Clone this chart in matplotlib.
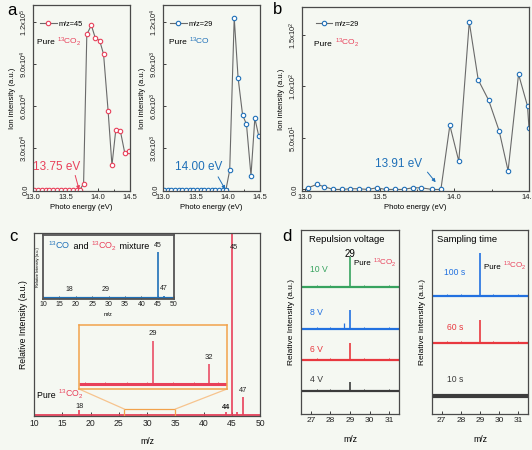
import matplotlib.pyplot as plt
from matplotlib.patches import Rectangle, ConnectionPatch
from matplotlib.ticker import MultipleLocator
from matplotlib.transforms import offset_copy

plt.rcParams['font.family'] = ['Liberation Sans', 'DejaVu Sans']
plt.rcParams['mathtext.fontset'] = 'custom'
plt.rcParams['mathtext.rm'] = 'Liberation Sans'
plt.rcParams['mathtext.default'] = 'regular'

# ---------------- data ----------------
# a (left): m/z = 45, pure 13CO2
e_a45 = [13.01, 13.07, 13.13, 13.19, 13.25, 13.31, 13.37, 13.43, 13.49, 13.55, 13.61, 13.67, 13.72,
         13.78, 13.83, 13.90, 13.96, 14.03, 14.09, 14.16, 14.22, 14.28, 14.35, 14.42, 14.48]
i_a45 = [0, 0, 0, 0, 0, 0, 0, 0, 0, 0, 0, 0, 0,
         4.7e3, 1.11e5, 1.176e5, 1.087e5, 1.065e5, 9.69e4, 5.67e4, 1.77e4, 4.32e4, 4.23e4, 2.62e4, 2.79e4]
# a (right): m/z = 29, pure 13CO
e_a29 = [13.01, 13.07, 13.12, 13.18, 13.24, 13.29, 13.35, 13.41, 13.46, 13.52, 13.58, 13.63, 13.69,
         13.75, 13.80, 13.86, 13.92, 13.97, 14.03, 14.10, 14.16, 14.23, 14.29, 14.36, 14.42, 14.48]
i_a29 = [0, 0, 0, 0, 0, 0, 0, 0, 0, 0, 0, 0, 0, 0, 0, 0, 0, 0,
         1.42e3, 1.23e4, 8.0e3, 5.36e3, 4.7e3, 1.04e3, 5.13e3, 3.87e3]
# b: m/z = 29, pure 13CO2
e_b29 = [13.02, 13.08, 13.13, 13.19, 13.25, 13.30, 13.36, 13.42, 13.48, 13.54, 13.60, 13.66, 13.72,
         13.78, 13.85, 13.91, 13.97, 14.03, 14.10, 14.16, 14.23, 14.30, 14.36, 14.43, 14.49, 14.50]
i_b29 = [1.6, 4.9, 2.6, 0, 0, 0.7, 0.7, 0, 1.6, 0, 0, 0, 1.6,
         1.6, 0, 0, 62.2, 27.3, 162.5, 106.3, 86.5, 56.9, 18.1, 111.8, 80.9, 59.2]

# c: mass spectrum of pure 13CO2 (relative, 45 goes off scale)
c_mz = [18, 29, 32, 44, 45, 46, 47]
c_int = [0.026, 0.0047, 0.0022, 0.016, 1.5, 0.018, 0.097]
c_labels = {18: '18', 44: '44', 45: '45', 47: '47'}
# c inset: 13CO + 13CO2 mixture
mix_mz = [29, 45, 46, 47]
mix_int = [0.025, 0.73, 0.01, 0.04]
mix_labels = ['18', '29', '45', '47']
mix_label_mz = [18, 29, 45, 47]
# small noise on the zoomed baseline
zoom_noise_mz = [25.3, 25.9, 26.4, 27.1, 27.6, 28.2, 28.7, 29.6, 30.1, 30.6, 31.2, 31.7, 32.5]
zoom_noise_int = [0.0003, 0.0002, 0.0003, 0.0002, 0.0003, 0.0002, 0.0003, 0.0002, 0.0003, 0.0002,
                  0.0003, 0.0002, 0.0003]

# d: repulsion voltage, m/z 29 peak
rv_names = ['4 V', '6 V', '8 V', '10 V']
rv_peak29 = [4.9, 9.2, 10.3, 16.3]
rv_side_mz = [None, None, 28.67, None]
rv_side_int = [0, 0, 3.3, 0]
# d: sampling time, m/z 29 peak
st_names = ['10 s', '60 s', '100 s']
st_peak29 = [0.0, 12.5, 23.4]
noise_mz = [26.7, 27.0, 27.3, 27.7, 28.0, 28.3, 28.6, 29.3, 29.7, 30.0, 30.4, 30.8, 31.0, 31.3]
noise_int = [0.8, 0.5, 1.0, 0.6, 0.9, 0.5, 0.8, 0.6, 1.0, 0.5, 0.8, 0.6, 1.1, 0.6]

# ---------------- styling ----------------
BG = '#f5f8f2'
RED = '#e8405a'
BLUE = '#1f70b8'
SPINE = '#4a4a4a'
LINE = '#6a6a6a'
ORANGE = '#f2a24c'
W, H = 532, 450

fig = plt.figure(figsize=(W / 100, H / 100), dpi=100, facecolor=BG)
renderer = fig.canvas.get_renderer()


def px_axes(l, t, r, b):
    ax = fig.add_axes([l / W, 1 - b / H, (r - l) / W, (b - t) / H])
    ax.set_facecolor(BG)
    for s in ax.spines.values():
        s.set_color(SPINE)
        s.set_linewidth(0.9)
    ax.tick_params(direction='in', length=2.5, width=0.6, labelsize=5.5, pad=2, colors='#222')
    ax.tick_params(which='minor', direction='in', length=1.5, width=0.5)
    return ax


def rainbow(ax, x, y, parts, size, transform=None):
    # pieces of differently coloured text sharing one baseline
    tr = transform or ax.transAxes
    dx = 0
    for s, c in parts:
        t = ax.text(x, y, s, color=c, fontsize=size, va='baseline',
                    transform=offset_copy(tr, fig=fig, x=dx, y=0, units='dots'))
        dx += t.get_window_extent(renderer).width


CO2 = r'$^{13}$CO$_2$'
CO = r'$^{13}$CO'


def scan_panel(ax, e, y, color, label, yt, ytl, ylim, xlim):
    ax.plot(e, y, '-', color=LINE, lw=0.8, marker='o', ms=3.2, mfc='white', mec=color,
            mew=0.8, label=label, clip_on=True)
    ax.set_xlim(*xlim)
    ax.set_ylim(*ylim)
    ax.xaxis.set_minor_locator(MultipleLocator(0.25))
    ax.set_xticks([13.0, 13.5, 14.0, 14.5])
    ax.set_xticklabels(['13.0', '13.5', '14.0', '14.5'])
    ax.set_yticks(yt)
    ax.set_yticklabels(ytl, rotation=90, va='center')
    ax.set_xlabel('Photo energy (eV)', fontsize=5.5, labelpad=2)
    ax.set_ylabel('Ion intensity (a.u.)', fontsize=5.5, labelpad=2)
    ax.legend(loc='upper left', frameon=False, fontsize=5.3, handlelength=2.2,
              handletextpad=0.3, borderaxespad=0.6, bbox_to_anchor=(0.0, 0.955))


def arrow(ax, head, tail, color):
    ax.annotate('', xy=head, xytext=tail,
                arrowprops=dict(arrowstyle='-|>', color=color, lw=0.7, mutation_scale=5,
                                shrinkA=0, shrinkB=0))


# ---------------- panel a ----------------
a1 = px_axes(33, 5, 130, 191)
scan_panel(a1, e_a45, i_a45, RED, 'm/z=45', [0, 3e4, 6e4, 9e4, 1.2e5],
           ['0.0', r'3.0x10$^{4}$', r'6.0x10$^{4}$', r'9.0x10$^{4}$', r'1.2x10$^{5}$'],
           (-600, 1.32e5), (12.995, 14.5))
rainbow(a1, 0.04, 0.79, [('Pure ', 'black'), (CO2, RED)], 6)
a1.text(13.0, 1.63e4, '13.75 eV', color=RED, fontsize=8.5, va='center')
arrow(a1, (13.71, 400), (13.65, 1.05e4), RED)

a2 = px_axes(163, 5, 260, 191)
scan_panel(a2, e_a29, i_a29, BLUE, 'm/z=29', [0, 3e3, 6e3, 9e3, 1.2e4],
           ['0.0', r'3.0x10$^{3}$', r'6.0x10$^{3}$', r'9.0x10$^{3}$', r'1.2x10$^{4}$'],
           (-60, 1.32e4), (12.995, 14.5))
rainbow(a2, 0.06, 0.79, [('Pure ', 'black'), (CO, BLUE)], 6)
a2.text(13.18, 1.63e3, '14.00 eV', color=BLUE, fontsize=8.5, va='center')
arrow(a2, (13.96, 60), (13.85, 9.5e2), BLUE)

# ---------------- panel b ----------------
b = px_axes(302, 7, 529, 191)
scan_panel(b, e_b29, i_b29, BLUE, 'm/z=29', [0, 50, 100, 150],
           ['0.0', r'5.0x10$^{1}$', r'1.0x10$^{2}$', r'1.5x10$^{2}$'],
           (-1.5, 177), (12.98, 14.5))
b.get_legend().set_bbox_to_anchor((0.03, 0.965))
rainbow(b, 0.055, 0.79, [('Pure ', 'black'), (CO2, RED)], 6)
b.text(13.47, 24.7, '13.91 eV', color=BLUE, fontsize=8.5, va='center')
arrow(b, (13.875, 7.0), (13.82, 16.8), BLUE)

# ---------------- panel c ----------------
c = px_axes(34, 233, 260, 416)
c.hlines(0, 10, 50, color=RED, lw=1.3)
c.vlines(c_mz, 0, c_int, color=RED, lw=1.2)
c.set_xlim(10, 50)
c.set_ylim(-0.005, 1.0)
c.set_yticks([])
c.set_xticks(range(10, 51, 5))
c.tick_params(labelsize=6.2, length=3)
c.set_xlabel('m/z', fontsize=6.2, labelpad=7)
c.set_ylabel('Relative Intensity (a.u.)', fontsize=6.2, labelpad=4)
label_gap = {18: 0.004, 44: 0.004, 47: 0.018}
for mz, lab in c_labels.items():
    h = c_int[c_mz.index(mz)]
    y = 0.9 if mz == 45 else h + label_gap[mz]
    c.text(mz + (0.4 if mz == 45 else 0), y, lab, ha='center', va='bottom', fontsize=5.3,
           fontweight='bold' if mz == 44 else 'normal', color='#222')
rainbow(c, 0.012, 0.1, [('Pure ', 'black'), (CO2, RED)], 6.3)
c.add_patch(Rectangle((26, -0.004), 9, 0.037, fill=False, ec=ORANGE, lw=0.9, zorder=3))

# zoomed view of 25-33
z = px_axes(79, 325, 227, 389)
z.set_zorder(5)
z.hlines(0, 25, 33, color=RED, lw=2.2)
z.vlines(c_mz, 0, c_int, color=RED, lw=1.1)
z.vlines(zoom_noise_mz, 0, zoom_noise_int, color=RED, lw=0.6)
z.set_xlim(25, 33)
z.set_ylim(-0.0005, 0.0064)
z.set_xticks([])
z.set_yticks([])
for s in z.spines.values():
    s.set_color(ORANGE)
    s.set_linewidth(1.1)
z.text(29, 0.0051, '29', ha='center', va='bottom', fontsize=5.5, color='#222')
z.text(32, 0.0025, '32', ha='center', va='bottom', fontsize=5.5, color='#222')
for xa, xb in [(26, 0), (35, 1)]:
    con = ConnectionPatch(xyA=(xa, 0.033), coordsA=c.transData, xyB=(xb, 0),
                          coordsB=z.transAxes, color='#f7c48e', lw=0.9)
    fig.add_artist(con)

# mixture inset
m = px_axes(43, 235, 174, 299)
m.set_zorder(5)
for s in m.spines.values():
    s.set_color('#555555')
    s.set_linewidth(1.3)
m.hlines(0, 10, 50, color=BLUE, lw=1.6)
m.vlines(mix_mz, 0, mix_int, color=BLUE, lw=1.2)
m.vlines([29], 0, [0.025], color=BLUE, lw=2.5)
m.set_xlim(10, 50)
m.set_ylim(-0.01, 1.0)
m.set_yticks([])
m.set_xticks(range(10, 51, 5))
m.tick_params(labelsize=5, length=2, pad=1.5)
m.set_xlabel('m/z', fontsize=4, labelpad=3)
m.set_ylabel('Relative Intensity (a.u.)', fontsize=2.8, labelpad=2)
for lab, mz in zip(mix_labels, mix_label_mz):
    y = 0.78 if mz == 45 else (0.1 if mz == 47 else 0.08)
    m.text(mz, y, lab, ha='center', va='bottom', fontsize=5, color='#222')
rainbow(m, 0.04, 0.78, [(CO, BLUE), (' and ', 'black'), (CO2, RED), (' mixture', 'black')], 6.5)

# ---------------- panel d ----------------
GREEN = '#37a35f'
DBLUE = '#2271e0'
DRED = '#e8383f'
DARK = '#3c3c3c'


def spectrum_axes(l, r):
    ax = px_axes(l, 230, r, 414)
    ax.set_xlim(26.5, 31.5)
    ax.set_ylim(0, 100)
    ax.set_yticks([])
    ax.set_xticks([27, 28, 29, 30, 31])
    ax.tick_params(labelsize=6, length=2.5)
    ax.set_xlabel('m/z', fontsize=6.3, labelpad=8)
    ax.set_ylabel('Relative Intensity (a.u.)', fontsize=6, labelpad=4)
    return ax


def trace(ax, base, peak, color, lw, side=None, side_h=0):
    ax.hlines(base, 26.5, 31.5, color=color, lw=lw)
    ax.vlines(noise_mz, base, [base + n for n in noise_int], color=color, lw=0.7)
    if peak > 0:
        ax.vlines(29, base, base + peak, color=color, lw=1.2)
    if side is not None:
        ax.vlines(side, base, base + side_h, color=color, lw=0.9)


d1 = spectrum_axes(301, 399)
rv_base = [12.5, 29.3, 46.2, 69.0]
rv_colors = [DARK, DRED, DBLUE, GREEN]
rv_text_y = [18.5, 35.3, 55.0, 78.8]
for name, pk, base, col, ty, sm, sh in zip(rv_names, rv_peak29, rv_base, rv_colors, rv_text_y,
                                         rv_side_mz, rv_side_int):
    trace(d1, base, pk, col, 1.6, sm, sh)
    d1.text(26.95, ty, name, color=col, fontsize=6.2, va='center')
d1.text(26.9, 95, 'Repulsion voltage', fontsize=6.8, va='center', color='black')
d1.text(29.0, 87, '29', fontsize=7, ha='center', va='center', color='black')
rainbow(d1, 29.22, 81, [('Pure ', 'black'), (CO2, RED)], 5.8, transform=d1.transData)

d2 = spectrum_axes(432, 528)
st_base = [9.8, 38.6, 64.1]
st_colors = [DARK, DRED, DBLUE]
st_lw = [3.0, 1.6, 1.6]
st_text_y = [19.0, 47.0, 77.0]
st_text_x = [27.3, 27.3, 27.1]
for name, pk, base, col, lw, ty, tx in zip(st_names, st_peak29, st_base, st_colors, st_lw,
                                          st_text_y, st_text_x):
    trace(d2, base, pk, col, lw)
    d2.text(tx, ty, name, color=col, fontsize=6.2, va='center')
d2.text(26.75, 95, 'Sampling time', fontsize=6.8, va='center', color='black')
rainbow(d2, 29.2, 79, [('Pure ', 'black'), (CO2, RED)], 5.8, transform=d2.transData)

# ---------------- panel letters ----------------
for lab, x, y in [('a', 7, 3), ('b', 273, 2), ('c', 9, 229), ('d', 282, 229)]:
    fig.text(x / W, 1 - y / H, lab, fontsize=12, va='top', ha='left', color='black')

fig.savefig('out.png', dpi=100, facecolor=BG)
